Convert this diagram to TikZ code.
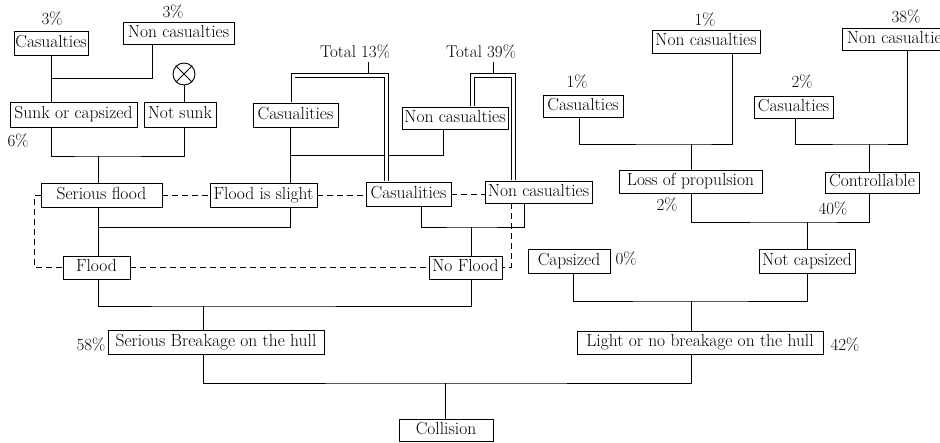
\documentclass[tikz,border=0pt]{standalone}
\usepackage{tikz}
\begin{document}
\begin{tikzpicture}[x=1pt, y=-1pt, line width=0.9pt,
  box/.style={draw, inner sep=0pt, minimum height=23pt, text height=11.5pt, text depth=3.5pt, font=\fontsize{17.5}{20}\selectfont},
  pct/.style={inner sep=0pt, font=\fontsize{17}{20}\selectfont},
  dsh/.style={dash pattern=on 6pt off 4pt},
  dbl/.style={double, double distance=3pt, line width=0.8pt, shorten >=0.5pt, shorten <=0.5pt}]
\useasboundingbox (0,0) rectangle (940,442);
\clip (0,0) rectangle (940,442);

% Junctions
\coordinate (jSunk) at (51,78);
\coordinate (jSerFlood) at (98,156);
\coordinate (jFlood) at (98,227);
\coordinate (jSlight) at (290,155);
\coordinate (jNoFlood) at (471,227);
\coordinate (jSerious) at (203,306);
\coordinate (jColl) at (445,383);
\coordinate (jLight) at (691,301);
\coordinate (jNotCaps) at (807,222);
\coordinate (jLop) at (691,144);
\coordinate (jCtrl) at (869,144);
\coordinate (tot13) at (368,75.5);
\coordinate (tot39) at (493,75.5);

% Serious breakage side
\node[box, minimum width=74, minimum height=24] (cas1) at (51,43) {Casualties};
\node[box, minimum width=111, minimum height=22] (nc1) at (178.5,33) {Non casualties};
\node[pct] (pCas1) at (52,19) {3\%};
\node[pct] (pNc1) at (173,12) {3\%};
\node[draw, circle, inner sep=0pt, minimum size=22] (nsx) at (184,74) {};
\draw (nsx.north east) -- (nsx.south west) (nsx.north west) -- (nsx.south east);
\node[box, minimum width=127, minimum height=25] (sunk) at (73.5,114.5) {Sunk or capsized};
\node[box, minimum width=72, minimum height=25] (notsunk) at (180,114.5) {Not sunk};
\node[pct] (pSunk) at (18,141) {6\%};
\node[box, minimum width=121, minimum height=24] (sflood) at (101.5,195) {Serious flood};
\node[box, minimum width=107, minimum height=24] (fslight) at (263.5,195) {Flood is slight};
\node[box, minimum width=85, minimum height=24] (cas2) at (295.5,115) {Casualities};
\node[box, minimum width=106, minimum height=22] (nc2) at (455,118) {Non casualties};
\node[box, minimum width=85, minimum height=24] (cas3) at (408.5,194) {Casualities};
\node[box, minimum width=107, minimum height=22] (nc3) at (538.5,192) {Non casualties};
\node[box, minimum width=67] (flood) at (96.5,267.5) {Flood};
\node[box, minimum width=73] (noflood) at (465.5,267.5) {No Flood};
\node[box, minimum width=216, minimum height=24] (serious) at (216,342) {Serious Breakage on the hull};
\node[pct] (pSerious) at (91,345) {58\%};
\node[pct] (tot13l) at (355,52) {Total 13\%};
\node[pct] (tot39l) at (481,52) {Total 39\%};

% Light breakage side
\node[box, minimum width=108] (nc4) at (706,41.5) {Non casualties};
\node[box, minimum width=80, minimum height=22] (cas4) at (583,106) {Casualties};
\node[box, minimum width=111, minimum height=22] (nc5) at (897.5,39) {Non casualties};
\node[box, minimum width=79, minimum height=22] (cas5) at (793.5,107) {Casualties};
\node[pct] (pNc4) at (705,20) {1\%};
\node[pct] (pCas4) at (577,82) {1\%};
\node[pct] (pNc5) at (906,17) {38\%};
\node[pct] (pCas5) at (802,82) {2\%};
\node[box, minimum width=143] (lop) at (690.5,181.5) {Loss of propulsion};
\node[box, minimum width=94, minimum height=21] (ctrl) at (872,182.5) {Controllable};
\node[pct] (pLop) at (667,205) {2\%};
\node[pct] (pCtrl) at (833,209) {40\%};
\node[box, minimum width=82, minimum height=24] (caps) at (569,261) {Capsized};
\node[box, minimum width=96, minimum height=24] (notcaps) at (807,261) {Not capsized};
\node[pct] (pCaps) at (626,259) {0\%};
\node[box, minimum width=246] (light) at (700,342.5) {Light or no breakage on the hull};
\node[pct] (pLight) at (845,345) {42\%};
\node[box, minimum width=94, minimum height=22] (coll) at (446,430.5) {Collision};

% Tree lines
\draw (cas1.south) -- (sunk.north -| cas1.south);
\draw (jSunk) -| ([xshift=-26.5]nc1.south);
\draw (nsx.south) -- (notsunk.north -| nsx.south);
\draw (sunk.south -| cas1.south) |- (jSerFlood) -| (notsunk.south -| nsx.south);
\draw (jSerFlood) -- (sflood.north -| jSerFlood);
\draw (sflood.south -| jSerFlood) -- (flood.north -| jSerFlood);
\draw (jFlood) -| (fslight.south -| jSlight);
\draw (cas2.south -| jSlight) -- (fslight.north -| jSlight);
\draw (jSlight) -| ([xshift=-12]nc2.south);
\draw ([xshift=12.5]cas3.south) |- (jNoFlood) -| ([xshift=-14.5]nc3.south);
\draw (jNoFlood) -- (noflood.north -| jNoFlood);
\draw (flood.south -| jSerFlood) |- (jSerious) -| (noflood.south -| jNoFlood);
\draw (jSerious) -- (serious.north -| jSerious);
\draw (serious.south -| jSerious) |- (jColl) -| (light.south -| jLight);
\draw (jColl) -- (coll.north -| jColl);
\draw ([xshift=4]caps.south) |- (jLight) -| (notcaps.south);
\draw (jLight) -- (light.north -| jLight);
\draw (lop.south -| jLight) |- (jNotCaps) -| (ctrl.south -| jCtrl);
\draw (jNotCaps) -- (notcaps.north);
\draw ([xshift=-4]cas4.south) |- (jLop) -| ([xshift=26]nc4.south);
\draw (jLop) -- (lop.north -| jLop);
\draw ([xshift=1.5]cas5.south) |- (jCtrl) -| ([xshift=9.5]nc5.south);
\draw (jCtrl) -- (ctrl.north -| jCtrl);

% Totals
\draw[dbl] ([xshift=-2.5]cas2.north) |- (tot13) -| ([xshift=-22]cas3.north);
\draw[dbl] ([xshift=17.5]nc2.north) |- (tot39) -| ([xshift=-25]nc3.north);
\draw ([yshift=-3pt]tot13l.south -| tot13) -- ([yshift=2pt]tot13);
\draw ([yshift=-3pt]tot39l.south -| tot39) -- ([yshift=2pt]tot39);

% Dashed links
\draw[dsh] (sflood) -- (fslight);
\draw[dsh] (fslight.east) -- (cas3.west |- fslight.east);
\draw[dsh] (cas3.east) -- (nc3.west |- cas3.east);
\draw[dsh] (sflood.west) -- ++(-6,0) |- (flood.west);
\draw[dsh] (flood) -- (noflood);
\draw[dsh] ([xshift=-27.5]nc3.south) |- (noflood.east);
\end{tikzpicture}
\end{document}
